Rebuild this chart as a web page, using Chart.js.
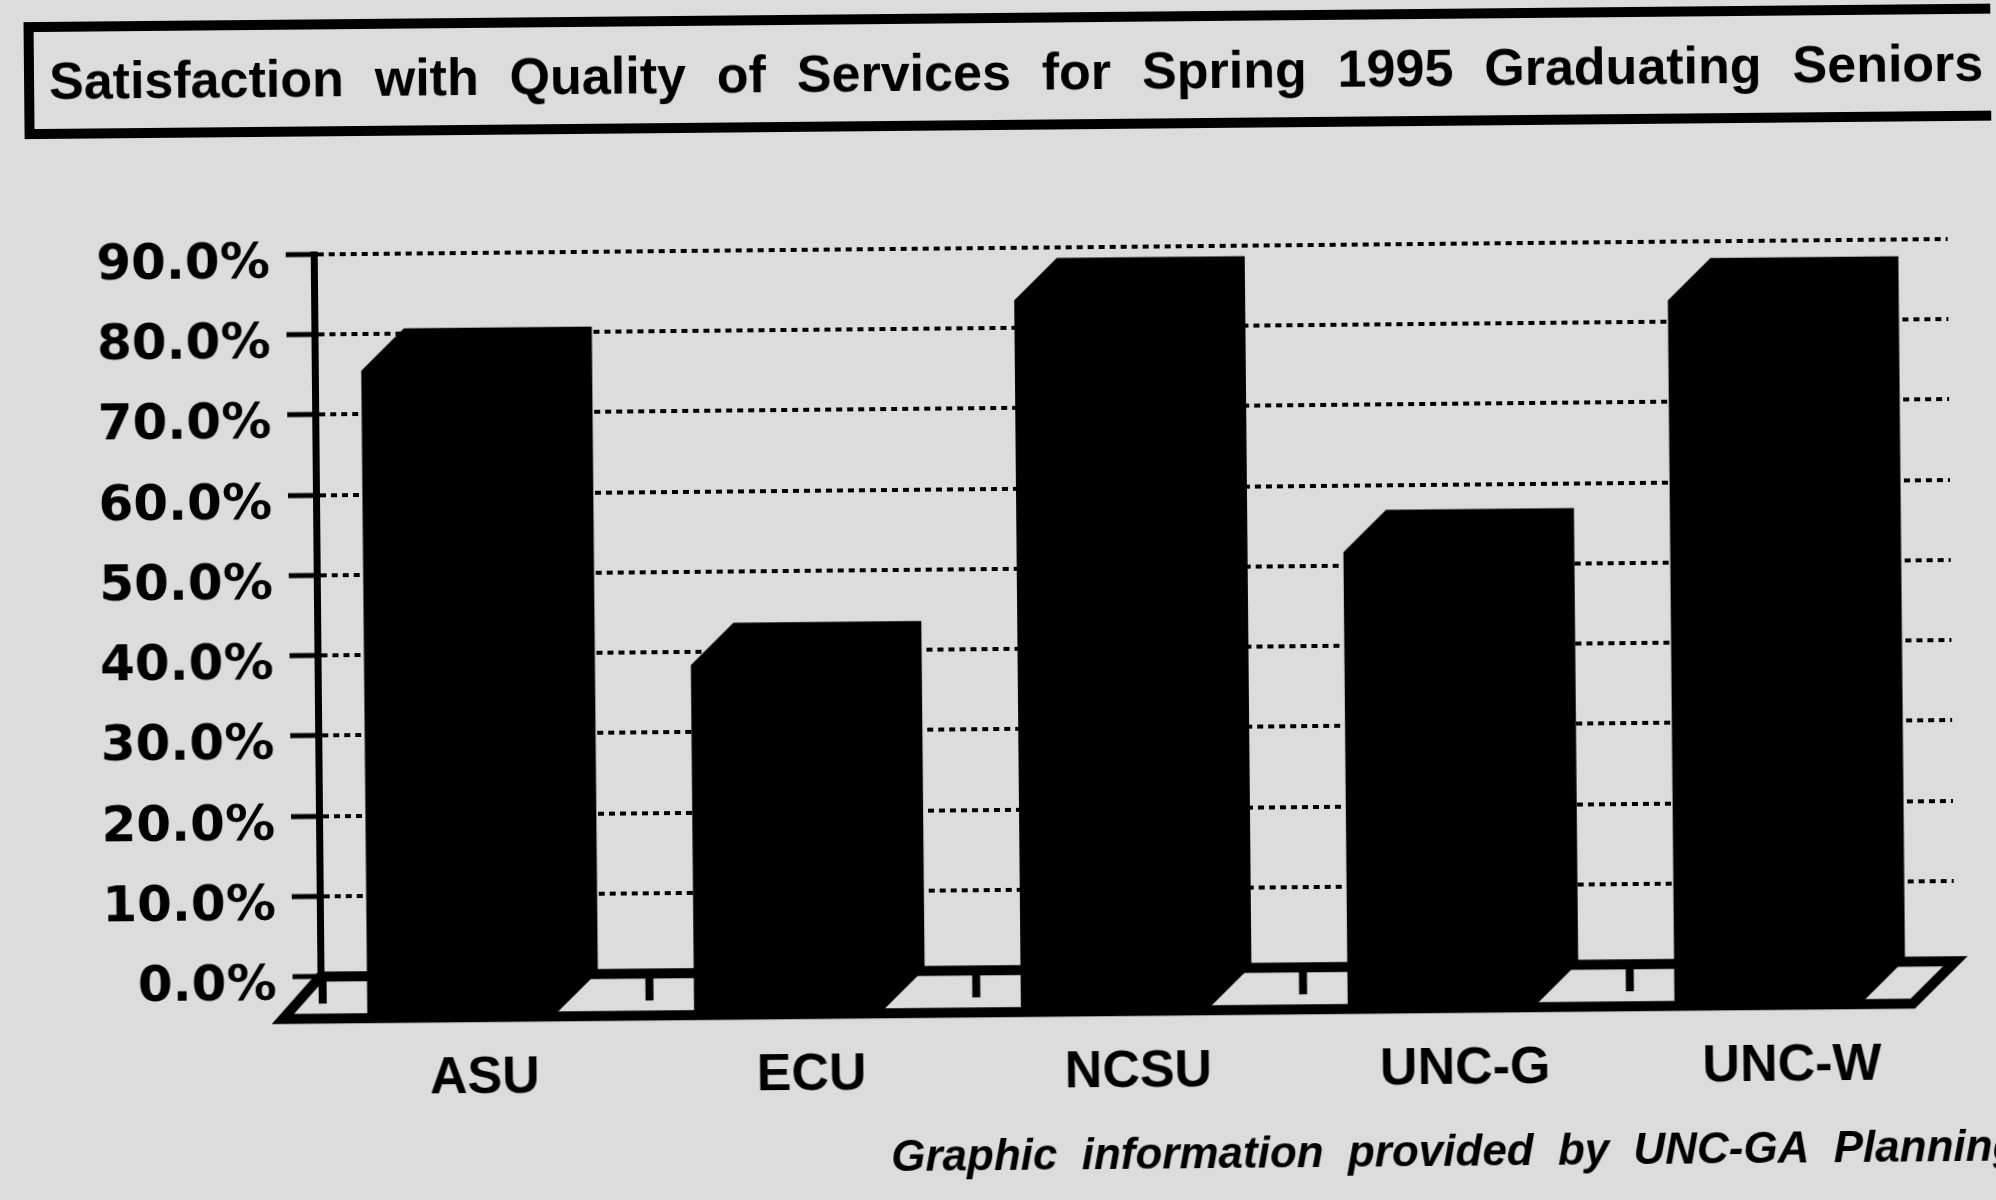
<!DOCTYPE html>
<html lang="en">

<head>
    <meta charset="UTF-8">
    <title>Satisfaction with Quality of Services</title>
    <script src="https://cdn.jsdelivr.net/npm/chart.js"></script>
    <style>
        html, body { margin: 0; height: 100%; overflow: hidden; background: #dcdcdc; }
        /* the scan sits slightly crooked on the page */
        canvas { display: block; transform: rotate(-0.54deg); }
    </style>
</head>

<body>
    <canvas id="myChart" width="1996" height="1200"></canvas>

    <script>
        const categories = ["ASU", "ECU", "NCSU", "UNC-G", "UNC-W"];
        const satisfaction = [80.7, 43.6, 88.7, 56.9, 87.9];
        const titleText = "Satisfaction with Quality of Services for Spring 1995 Graduating Seniors";
        const creditText = "Graphic information provided by UNC-GA Planning";

        const ink = "#000";
        const depthX = 43, depthY = 42, backShift = 20;

        // place a title box by hand and give it its own word gaps
        function placeText(box, left, gap) {
            box.left = left;
            box.right = 2400;
            if (box.gapWrapped) return;
            box.gapWrapped = true;
            const draw = box.draw.bind(box);
            box.draw = area => {
                box.ctx.wordSpacing = gap;
                draw(area);
                box.ctx.wordSpacing = "0px";
            };
        }

        const fakeThreeD = {
            id: "fakeThreeD",
            beforeDraw(chart) {
                const ctx = chart.ctx;
                // title frame runs off the right side of the page
                ctx.save();
                ctx.strokeStyle = ink;
                ctx.lineWidth = 10;
                ctx.strokeRect(34, 18, 2000, 107);
                ctx.restore();
            },
            afterLayout(chart) {
                chart.boxes.forEach(b => {
                    if (b.options && b.options.text === titleText) placeText(b, 54, "16.5px");
                    if (b.options && b.options.text === creditText) placeText(b, 886, "12px");
                });
            },
            beforeDatasetsDraw(chart) {
                const ctx = chart.ctx, xs = chart.scales.x, ys = chart.scales.y;
                const y0 = ys.getPixelForValue(0);
                const right = xs.right + 1;
                ctx.save();
                ctx.strokeStyle = ink;
                ctx.lineJoin = "miter";
                ctx.lineWidth = 10;
                ctx.beginPath();
                ctx.moveTo(xs.left, y0);
                ctx.lineTo(xs.left - depthX + 5, y0 + depthY);
                ctx.lineTo(right - depthX, y0 + depthY);
                ctx.lineTo(right, y0);
                ctx.closePath();
                ctx.stroke();
                // little ticks on the floor between the columns
                ctx.lineWidth = 8;
                for (let i = 0; i < categories.length; i++) {
                    const x = i == 0 ? xs.left + 2 : xs.getPixelForValue(i) - (xs.getPixelForValue(1) - xs.getPixelForValue(0)) / 2 + 2;
                    ctx.beginPath();
                    ctx.moveTo(x, y0);
                    ctx.lineTo(x, y0 + 27);
                    ctx.stroke();
                }
                ctx.restore();
            },
            beforeDatasetDraw(chart, args) {
                const ctx = chart.ctx;
                ctx.save();
                ctx.fillStyle = ink;
                args.meta.data.forEach(bar => {
                    const w = bar.width / 2;
                    const back = bar.x + backShift;
                    const front = back - depthX;
                    ctx.beginPath();
                    ctx.moveTo(back - w, bar.y);
                    ctx.lineTo(back + w, bar.y);
                    ctx.lineTo(back + w, bar.base);
                    ctx.lineTo(front + w, bar.base + depthY);
                    ctx.lineTo(front - w, bar.base + depthY);
                    ctx.lineTo(front - w, bar.y + depthY);
                    ctx.closePath();
                    ctx.fill();
                });
                ctx.restore();
                return false;
            }
        };

        new Chart("myChart", {
            type: "bar",
            plugins: [fakeThreeD],
            data: {
                labels: categories,
                datasets: [{
                    data: satisfaction,
                    backgroundColor: ink,
                    categoryPercentage: 1,
                    barPercentage: 0.575,
                }],
            },
            options: {
                responsive: false,
                animation: false,
                layout: { padding: { right: 45 } },
                plugins: {
                    legend: { display: false },
                    tooltip: { enabled: false },
                    title: {
                        display: true,
                        text: titleText,
                        align: "start",
                        color: ink,
                        font: { family: '"Liberation Sans"', size: 52, weight: "bold" },
                        padding: { top: 44, bottom: 141.6 },
                    },
                    subtitle: {
                        display: true,
                        text: creditText,
                        position: "bottom",
                        align: "start",
                        color: ink,
                        font: { family: '"Liberation Sans"', size: 44, style: "italic", weight: "bold" },
                        padding: { top: 0, bottom: 15.5 },
                    },
                },
                scales: {
                    x: {
                        afterFit(scale) { scale.height = 161.5; },
                        border: { display: false },
                        grid: { display: false, drawTicks: false },
                        ticks: {
                            color: ink,
                            padding: 72,
                            maxRotation: 0,
                            font: { family: '"Liberation Sans"', size: 52, weight: "bold" },
                        },
                    },
                    y: {
                        min: 0,
                        max: 90,
                        afterFit(scale) { scale.width = 317; },
                        border: { display: true, color: ink, width: 7, dash: [6, 5] },
                        grid: {
                            color: ink,
                            lineWidth: 4,
                            tickColor: ink,
                            tickWidth: 5,
                            tickLength: 28,
                            tickBorderDash: [],
                        },
                        ticks: {
                            stepSize: 10,
                            color: ink,
                            padding: 16,
                            labelOffset: 10,
                            font: { family: '"DejaVu Sans"', size: 50, weight: "bold" },
                            callback: v => v.toFixed(1) + "%",
                        },
                    },
                },
            },
        });
    </script>
</body>

</html>
